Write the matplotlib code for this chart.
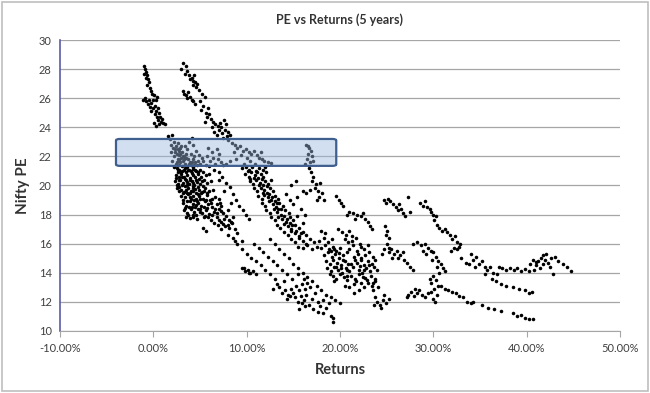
import matplotlib
matplotlib.use("Agg")
import matplotlib.pyplot as plt
import numpy as np
from matplotlib.patches import FancyBboxPatch, Rectangle
from matplotlib.ticker import FuncFormatter

plt.rcParams['font.family'] = ['Lato', 'DejaVu Sans']

# ---- data: (5-year return in %, Nifty PE) ----
track_a = [(-1.0,28.2),(-0.9,28.0),(-0.8,27.8),(-0.95,27.7),(-0.7,27.6),(-0.8,27.4),(-0.6,27.3),(-0.5,27.1),(-0.7,26.9),(-0.4,26.7),
           (-0.3,26.5),(-0.1,26.3),(0.1,26.2),(-0.9,26.0),(-1.1,25.9),(-0.8,25.8),(-0.5,25.9),(-0.3,25.7),(0.0,25.9),(0.3,25.9),
           (0.4,26.1),(-0.6,25.6),(-0.4,25.4),(0.0,25.3),(0.2,25.5),(0.5,25.3),(0.3,25.1),(0.6,25.0),(0.2,24.9),(0.4,24.7),
           (0.7,24.7),(0.9,24.6),(0.5,24.5),(0.8,24.4),(1.0,24.3),(0.1,24.3),(0.3,24.1),(1.2,24.2),(0.6,24.2),(-0.2,25.1)]
track_b = [(3.0,28.0),(3.2,28.4),(3.5,28.2),(3.6,27.9),(3.8,27.6),(3.9,27.3),(4.1,27.4),(4.3,27.2),(4.5,27.1),(4.2,26.9),
           (4.6,26.8),(4.9,26.6),(5.2,26.3),(5.5,26.1),(3.2,26.5),(3.3,26.3),(3.5,26.2),(3.7,26.4),(3.9,26.1),(4.1,25.9),
           (3.6,26.0),(4.3,25.8),(4.5,25.6),(5.0,25.8),(5.3,25.5),(5.1,25.2),(5.6,25.0),(5.9,25.3),(6.0,24.9),(5.8,24.7),
           (6.2,24.6),(5.5,24.4),(6.4,24.4),(6.6,24.2),(6.3,24.0),(6.9,24.1),(7.1,24.3),(7.3,24.0),(7.6,24.5),(7.8,24.2),
           (7.0,23.8),(7.4,23.6),(7.7,23.8),(8.0,23.7),(8.2,23.5),(7.9,23.4),(7.5,23.3),(6.8,23.5),(6.5,23.7),(4.4,27.6),
           (4.7,27.0),(3.4,27.7)]
box_left = [(1.6,23.4),(1.8,23.2),(2.0,23.5),(2.2,23.0),(1.9,22.8),(2.4,22.7),(2.6,22.9),(2.3,22.5),(2.7,22.4),(2.9,22.6),
            (3.1,22.3),(2.5,22.2),(2.8,22.1),(3.3,22.0),(3.5,22.2),(3.0,21.9),(3.7,21.8),(3.2,21.7),(3.9,21.6),(4.2,21.8),
            (4.5,21.6),(4.0,21.4),(3.4,21.5),(2.9,21.6),(2.6,21.8),(4.7,21.4),(5.0,21.5),(5.3,21.7),(3.6,22.5),(3.8,23.0),
            (4.1,23.3),(4.3,22.8),(4.6,22.4),(4.9,22.1),(5.2,21.9),(2.2,22.0),(2.0,21.7),(2.4,21.5),(3.6,21.3),(4.3,21.3),
            (3.1,21.35),(2.7,21.4),(1.9,22.3),(3.4,22.7),(4.0,22.2),(4.4,22.0),
            (2.3,22.3),(2.6,22.5),(2.9,22.2),(3.2,22.05),(3.5,21.9),(3.8,21.5),(4.1,21.6),(4.4,21.4),(2.2,21.3),(2.5,21.6),
            (2.8,21.75),(3.3,21.8),(3.0,22.7),(2.1,22.6),(4.8,21.7)]
box_mid = [(5.8,22.0),(6.1,21.7),(6.4,21.9),(6.6,21.5),(6.9,21.8),(7.2,21.6),(7.5,21.4),(6.3,22.3),(6.8,22.5),(7.0,22.2),
           (5.6,21.4),(6.0,21.35),(7.8,21.5),(8.2,21.7),(5.9,22.6)]
box_band = [(8.0,23.1),(8.4,22.9),(8.7,22.8),(9.0,22.6),(9.3,22.7),(9.6,22.4),(9.9,22.5),(10.2,22.3),(10.5,22.2),(10.8,22.4),
            (11.1,22.1),(11.3,21.9),(11.6,21.8),(11.9,21.7),(12.3,21.6),(12.6,21.55),(9.4,22.1),(10.0,21.9),(10.4,21.7),(9.7,21.5),
            (8.9,21.8),(10.9,21.5),(11.5,22.3),(8.6,22.3)]
track_c = [(16.4,22.8),(16.7,22.6),(16.9,22.4),(16.6,22.2),(17.0,22.0),(16.5,21.8),(16.8,21.6),(17.1,21.7),(16.3,21.5),(16.6,22.7),
           (16.7,21.2),(16.9,20.9),(17.1,20.6),(17.0,20.3),(17.4,20.1),(17.3,19.8),(17.6,19.6),(17.9,20.2),(18.1,19.5),(17.8,19.2),
           (18.3,19.0),(16.4,19.5),(16.8,19.7),(17.5,19.0),(19.6,19.3),(19.9,19.0),(20.1,18.8),(20.3,18.6)]
main_band = [(2.5,21.2),(2.8,21.1),(3.1,21.0),(3.4,21.2),(3.7,21.1),(4.0,21.0),(4.3,21.15),(4.6,21.0),(5.0,21.1),(5.3,20.9),(2.6,20.9),
             (2.4,20.7),(2.7,20.6),(3.0,20.8),(3.3,20.6),(3.6,20.75),(3.9,20.5),(4.2,20.7),(4.5,20.55),(4.8,20.8),(5.1,20.6),(5.6,20.7),(6.0,20.8),
             (2.3,20.3),(2.6,20.1),(2.9,20.4),(3.2,20.2),(3.5,20.35),(3.8,20.1),(4.1,20.3),(4.4,20.0),(4.7,20.25),(5.0,20.1),(5.4,20.4),(5.8,20.2),
             (6.2,20.3),(2.8,19.9),(3.4,19.95),
             (2.5,19.8),(3.0,19.7),(3.3,19.55),(3.7,19.8),(4.0,19.6),(4.3,19.85),(4.6,19.5),(4.9,19.7),(5.2,19.55),(5.5,19.8),(6.0,19.6),(6.4,19.7),(3.6,19.5),
             (3.0,19.3),(3.4,19.2),(3.7,19.4),(4.0,19.1),(4.3,19.3),(4.6,19.05),(4.9,19.25),(5.3,19.1),(5.7,19.35),(6.1,19.0),(6.6,19.2),(7.0,19.1),
             (3.2,18.8),(3.5,18.6),(3.9,18.9),(4.2,18.7),(4.5,18.5),(4.8,18.8),(5.1,18.6),(5.5,18.9),(5.9,18.7),(6.3,18.5),(6.8,18.7),(7.3,18.6),
             (3.3,18.3),(3.6,18.1),(4.0,18.35),(4.4,18.2),(4.8,18.4),(5.2,18.1),(5.6,18.3),(6.0,18.05),(6.5,18.2),(7.0,18.4),(7.5,18.1),(8.0,18.3),
             (3.5,17.8),(3.9,17.75),(4.3,17.85),(4.7,17.7),(5.5,17.9),(6.2,17.6),(6.8,17.8),(7.2,17.5),(7.6,17.7),(8.1,17.6),(8.5,17.85),
             (5.3,17.1),(6.9,17.3),(7.3,17.0),(7.7,17.2),(8.1,17.1),(8.4,17.4),(8.8,17.0),
             (5.6,16.9),(8.0,16.6),(8.5,16.4),(9.0,16.7),(9.5,16.2),(8.7,16.2),
             (6.5,21.1),(7.0,20.9),(7.4,20.6),(7.0,20.4),(7.8,20.2),(8.2,19.9),(7.6,19.6),(8.5,19.4),(8.9,19.0),(8.3,18.8),
             (9.2,18.6),(9.6,18.3),(9.9,18.0),(10.3,17.7)]
main_band_fill = [(2.65,21.05),(2.95,20.95),(3.25,21.1),(3.55,20.9),(3.85,21.05),(4.15,20.85),(4.45,21.05),(4.75,20.9),(2.45,20.5),(2.75,20.35),
                  (3.05,20.55),(3.35,20.45),(3.65,20.25),(3.95,20.4),(4.25,20.2),(4.55,20.4),(4.85,20.45),(5.2,20.3),(2.55,20.0),(3.1,20.05),
                  (3.6,20.0),(4.2,19.95),(4.8,19.9),(5.3,19.95),(2.8,19.6),(3.2,19.45),(3.5,19.7),(3.9,19.45),(4.2,19.65),(4.5,19.75),
                  (4.8,19.4),(5.1,19.45),(5.4,19.6),(5.8,19.5),(3.2,19.0),(3.6,18.95),(3.9,19.2),(4.4,19.0),(4.7,18.9),(5.0,19.05),
                  (5.6,19.0),(6.3,19.1),(3.4,18.45),(3.8,18.55),(4.1,18.5),(4.6,18.65),(5.0,18.4),(5.4,18.55),(5.8,18.45),(6.2,18.8),
                  (6.6,18.4),(7.1,18.8),(3.7,18.0),(4.2,18.0),(4.6,17.95),(5.0,18.2),(5.4,17.8),(5.9,17.85),(6.3,18.0),(6.8,18.1),
                  (7.3,18.25),(7.8,17.9),(8.3,17.5),(6.5,17.4),(7.0,17.65),(7.5,17.35),(8.0,17.3)]
mid_band = [(9.5,21.2),(9.9,21.3),(10.3,21.1),(10.6,21.3),(11.0,21.0),(11.3,21.2),(11.7,21.1),(12.0,21.3),
            (9.8,20.8),(10.2,20.6),(10.5,20.9),(10.9,20.7),(11.2,20.5),(11.5,20.8),(11.8,20.6),(12.1,20.9),
            (10.4,20.3),(10.7,20.1),(11.0,20.35),(11.4,20.2),(11.7,20.0),(12.0,20.3),(12.3,20.1),(12.6,20.4),
            (10.8,19.8),(11.1,19.6),(11.5,19.85),(11.9,19.7),(12.2,19.5),(12.5,19.8),(12.8,19.6),
            (11.2,19.3),(11.6,19.1),(11.9,19.35),(12.3,19.2),(12.6,19.0),(13.0,19.3),(13.4,19.1),
            (11.6,18.8),(12.0,18.6),(12.4,18.9),(12.8,18.7),(13.1,18.5),(13.5,18.8),(13.9,18.6),
            (12.1,18.3),(12.5,18.1),(12.9,18.35),(13.3,18.2),(13.7,18.0),(14.1,18.3),(14.5,18.1),
            (12.6,17.8),(13.0,17.6),(13.4,17.85),(13.8,17.7),(14.2,17.5),(14.6,17.8),(15.0,17.6),(15.4,17.9),
            (13.2,17.3),(13.6,17.1),(14.0,17.35),(14.4,17.2),(14.8,17.0),(15.2,17.3),(15.6,17.1),(16.0,17.4),
            (14.0,16.8),(14.4,16.6),(14.8,16.9),(15.2,16.7),(15.6,16.5),(16.0,16.8),(16.4,16.6),
            (14.8,16.3),(15.2,16.1),(15.6,16.4),(16.0,16.2),(16.4,16.0),(16.8,16.3),(17.2,16.1),
            (15.5,15.8),(16.0,15.7),(16.5,15.9),(17.0,15.6),(17.5,15.8),
            (14.2,19.4),(14.6,19.0),(15.0,18.7),(15.4,19.2),(15.8,18.4),(16.2,18.0),(15.3,20.3),(14.8,20.0),(16.0,19.6),
            (10.1,21.0),(10.4,20.45),(10.8,20.5),(11.1,20.9),(11.3,20.0),(11.6,20.45),(11.8,19.5),(12.2,19.95),(12.4,19.4),(12.7,19.2),
            (13.0,18.9),(13.2,18.8),(13.4,18.4),(13.7,18.35),(14.0,17.9),(14.3,17.7),(14.6,17.45),(14.9,17.3),(15.3,16.9),(15.8,16.7)]
sparse_diag = [(9.0,16.0),(9.5,15.6),(10.0,15.3),(10.5,15.0),(11.0,14.8),(11.5,14.5),(12.0,14.2),(12.5,13.9),(13.0,13.6),
               (10.8,16.0),(11.3,15.7),(11.8,15.4),(12.3,15.1),(12.8,14.8),(13.3,14.5),(13.8,14.2),(14.3,13.9),
               (12.5,16.3),(13.0,16.0),(13.5,15.6),(14.0,15.3),(14.5,15.0),(15.0,14.6),(15.5,14.3),(16.0,14.0),(16.5,13.7),
               (17.0,13.4),(17.5,13.1),(18.0,12.8),(18.5,12.5),(19.0,12.3),(19.5,12.1),(20.0,11.9),
               (9.5,14.3),(9.8,14.1),(10.1,14.2),(10.4,14.0),(10.7,14.1),(11.0,13.9),(9.7,14.35),(10.2,13.95)]
low_cluster = [(13.5,13.0),(13.8,12.6),(14.1,12.8),(14.4,12.5),(14.7,12.9),(15.0,12.6),(15.3,13.1),(15.6,12.8),(15.9,13.2),(16.2,12.9),
               (16.5,13.3),(16.8,13.0),(14.3,12.2),(14.6,12.4),(15.2,12.3),(15.5,12.0),(15.8,12.4),(16.1,12.1),(16.4,12.5),(16.7,11.8),
               (17.0,12.2),(17.3,12.6),(17.6,12.0),(17.9,11.7),(18.2,12.1),(18.5,11.6),(18.8,11.9),(17.1,11.5),(16.3,11.7),(15.6,11.5),
               (15.9,11.9),(17.6,11.3),(18.2,11.2),(19.0,11.0),(19.3,10.9),(19.2,10.6),(14.0,13.4),(14.9,13.6),(15.5,13.9),(16.1,13.6),
               (13.2,13.2),(12.8,12.9)]
dense_20 = [(18.0,16.9),(18.4,16.7),(19.8,17.0),(20.2,16.8),(20.6,16.6),(21.0,16.9),(21.3,16.5),
            (17.8,16.2),(18.3,16.4),(18.7,16.1),(19.1,16.3),(20.5,16.3),(20.9,16.1),(21.3,16.2),(21.7,16.4),(22.1,16.0),
            (18.0,15.7),(18.4,15.9),(18.8,15.6),(19.2,15.8),(19.6,15.5),(20.0,15.7),(21.0,15.6),(21.4,15.9),(21.8,15.5),(22.2,15.8),(22.6,15.6),(23.0,15.9),
            (18.3,15.2),(18.7,15.4),(19.1,15.1),(19.5,15.3),(19.9,15.0),(20.3,15.2),(20.7,15.4),(21.5,15.1),(21.9,15.3),(22.3,15.0),(22.7,15.2),(23.1,15.4),(23.5,15.1),
            (18.5,14.8),(18.9,14.6),(19.3,14.9),(19.7,14.7),(20.1,14.5),(20.5,14.8),(20.9,14.6),(21.8,14.7),(22.2,14.9),(22.6,14.5),(23.0,14.8),(23.4,14.6),(23.8,14.9),
            (18.6,14.3),(19.0,14.1),(19.4,14.4),(19.8,14.2),(20.2,14.0),(20.6,14.3),(21.0,14.1),(21.4,14.4),(22.0,14.2),(22.4,14.0),(22.8,14.3),(23.2,14.1),(23.6,14.4),(24.0,14.2),
            (19.2,13.8),(19.6,13.6),(20.0,13.9),(20.4,13.7),(20.8,13.5),(21.2,13.8),(21.6,13.6),(22.0,13.9),(22.5,13.7),(22.9,13.5),(23.3,13.8),(23.7,13.6),
            (21.5,13.2),(22.2,13.3),(22.6,13.0),(23.0,13.3),(23.4,13.1),(23.8,13.4),(24.1,13.0),(20.5,13.1),(21.0,13.0),
            (21.5,12.6),(22.0,12.8),(23.5,12.8),(23.8,12.3),(24.0,12.0),(24.3,11.8),(24.6,12.1),(24.9,11.9),(25.2,12.2),(23.6,11.8),(24.4,11.6),(24.7,12.5),
            (19.0,15.5),(19.4,15.65),(19.9,15.35),(20.3,14.9),(20.8,14.2),(21.2,14.6),(21.6,14.9),(22.1,14.45),(22.6,14.2),(23.1,14.5),
            (19.6,14.4),(20.1,14.3),(20.7,13.8),(21.7,13.4),(22.7,13.65),(23.5,13.3),(18.9,13.9),(19.4,13.4)]
cluster_18 = [(21.0,18.2),(21.4,18.1),(21.8,18.0),(22.2,17.9),(22.5,18.1),(22.7,17.7),(23.0,17.5),(23.2,17.2),(23.4,17.0),(21.6,17.7),(20.8,18.0),
              (24.7,19.0),(24.9,18.8),(25.1,19.1),(25.4,18.9),(25.7,18.7),(26.0,18.5),(26.2,18.3),(26.5,18.4),(26.8,18.1),(27.0,17.9),
              (27.3,19.2),(26.3,18.7),(27.5,18.2)]
cluster_25 = [(24.8,17.2),(25.0,16.9),(24.9,16.6),(25.2,16.4),(25.0,16.0),(24.7,15.6),(25.2,15.4),(25.5,15.6),(25.8,15.3),(26.1,15.5),
              (26.4,15.2),(26.7,15.4),(26.2,15.0),(26.9,14.9),(27.2,14.7),(25.6,15.0),(27.5,14.4),(27.8,14.2),(25.3,15.7),(24.5,15.3),
              (27.8,16.0),(28.3,16.1),(28.7,15.9),(29.1,16.0),(29.4,15.7),(29.7,15.5),(29.2,15.3),(30.0,15.4),(30.3,15.1),(29.9,14.9),
              (30.5,14.8),(30.8,14.6),(30.4,14.4),(31.0,14.3),(30.6,14.0),(31.2,14.1),(28.9,15.5)]
cluster_30 = [(30.0,13.8),(30.3,13.5),(29.8,13.3),(30.5,13.1),(30.1,12.9),(29.7,12.7),(30.4,12.5),(30.0,12.2),(30.2,12.0),(29.6,13.6),
              (27.3,12.5),(27.6,12.7),(27.9,12.4),(28.2,12.6),(28.5,12.8),(28.8,12.5),(29.1,12.3),(29.4,12.6),(27.2,12.3),(28.0,12.9),
              (30.8,13.1),(31.2,12.9),(31.6,12.8),(32.0,12.7),(32.4,12.6),(32.8,12.4),(33.2,12.3),(33.6,12.0),(34.0,11.9),(34.3,12.0),
              (35.2,11.8),(35.9,11.6),(36.5,11.5),(37.2,11.4),(38.5,11.2),(39.0,11.0),(39.4,11.1),(39.8,10.9),(40.3,10.85),(40.7,10.8)]
track_d = [(28.6,18.8),(28.9,18.6),(29.1,18.9),(29.3,18.5),(29.6,18.4),(29.8,18.2),(30.0,18.0),(30.3,17.9),(30.1,17.6),(30.4,17.3),
           (30.6,17.1),(30.9,16.9),(31.2,17.0),(31.5,16.8),(31.8,16.6),(32.0,16.3),(32.3,16.5),(32.5,16.1),(32.7,15.8),(32.2,15.7),
           (32.9,16.0),(31.9,15.5),(32.5,15.6)]
cluster_35 = [(33.0,15.0),(33.5,14.7),(34.0,15.3),(34.2,14.9),(34.6,15.1),(34.9,14.6),(35.2,14.8),(35.5,14.4),(35.8,14.2),(36.1,14.4),
              (36.4,14.0),(36.8,13.9),(36.3,13.6),(36.7,13.4),(35.5,13.9),(34.5,14.4),(33.8,14.6),
              (37.0,14.4),(37.4,14.3),(37.8,14.2),(38.2,14.35),(38.6,14.2),(39.0,14.3),(39.4,14.15),(39.8,14.25),(40.2,14.1),
              (40.4,14.6),(40.7,14.9),(41.0,14.5),(41.2,14.8),(41.5,15.0),(41.8,14.6),(42.0,14.9),(42.3,14.7),(42.5,14.4),(41.4,14.3),
              (40.8,14.2),(42.1,15.3),(42.6,15.0),(41.7,15.2),(41.0,14.75),
              (43.0,15.1),(43.4,14.8),(43.9,14.6),(44.3,14.4),(44.8,14.1),(42.8,13.9),
              (37.2,13.2),(37.8,13.1),(38.5,13.0),(39.2,12.9),(39.8,12.8),(40.3,12.6),(40.6,12.7)]

groups = [track_a, track_b, box_left, box_mid, box_band, track_c, main_band, main_band_fill, mid_band,
          sparse_diag, low_cluster, dense_20, cluster_18, cluster_25, cluster_30, track_d, cluster_35]

x_ticks = [-10, 0, 10, 20, 30, 40, 50]
y_ticks = [10, 12, 14, 16, 18, 20, 22, 24, 26, 28, 30]

# highlight band (returns range, PE range)
band_x = (-4.0, 19.6)
band_y = (21.35, 23.2)

fig = plt.figure(figsize=(6.5, 3.93), dpi=100)
ax = fig.add_axes([0.0923, 0.158, 0.8615, 0.740])

pts = np.array([p for g in groups for p in g])
ax.scatter(pts[:, 0] / 100.0, pts[:, 1], s=6.5, c='black', marker='o', linewidths=0, zorder=3)

box = FancyBboxPatch((band_x[0] / 100.0, band_y[0]), (band_x[1] - band_x[0]) / 100.0, band_y[1] - band_y[0],
                     boxstyle="round,pad=0,rounding_size=0.004", mutation_aspect=25,
                     facecolor='#9ab8e0', edgecolor='none', alpha=0.45, zorder=4)
ax.add_patch(box)
edge = FancyBboxPatch((band_x[0] / 100.0, band_y[0]), (band_x[1] - band_x[0]) / 100.0, band_y[1] - band_y[0],
                      boxstyle="round,pad=0,rounding_size=0.004", mutation_aspect=25,
                      facecolor='none', edgecolor='#3f5f8f', linewidth=1.6, zorder=5)
ax.add_patch(edge)

ax.set_xlim(-0.10, 0.50)
ax.set_ylim(10, 30)
ax.set_xticks([v / 100.0 for v in x_ticks])
ax.set_yticks(y_ticks)
ax.xaxis.set_major_formatter(FuncFormatter(lambda v, p: f"{v*100:.2f}%"))
ax.grid(axis='y', color='#a6a6a6', linewidth=0.9, zorder=0)
ax.set_axisbelow(True)
for s in ['top', 'right']:
    ax.spines[s].set_visible(False)
ax.spines['left'].set_color('#5b5ba8')
ax.spines['left'].set_linewidth(1.2)
ax.spines['bottom'].set_color('#a6a6a6')
ax.tick_params(axis='y', length=0, labelsize=8, colors='#404040', pad=6)
ax.tick_params(axis='x', length=4, direction='out', color='#a6a6a6', labelsize=8, labelcolor='#404040', pad=5)

ax.set_title("PE vs Returns (5 years)", fontsize=9, fontweight='bold', color='#333333', pad=12)
ax.set_xlabel("Returns", fontsize=10.5, fontweight='bold', color='#333333', labelpad=6)
ax.set_ylabel("Nifty PE", fontsize=11, fontweight='bold', color='#333333', labelpad=6)

fig.patches.append(Rectangle((0.003, 0.005), 0.994, 0.99, transform=fig.transFigure,
                             fill=False, edgecolor='#bfbfbf', linewidth=1.2))

fig.savefig("out.png", dpi=100)
